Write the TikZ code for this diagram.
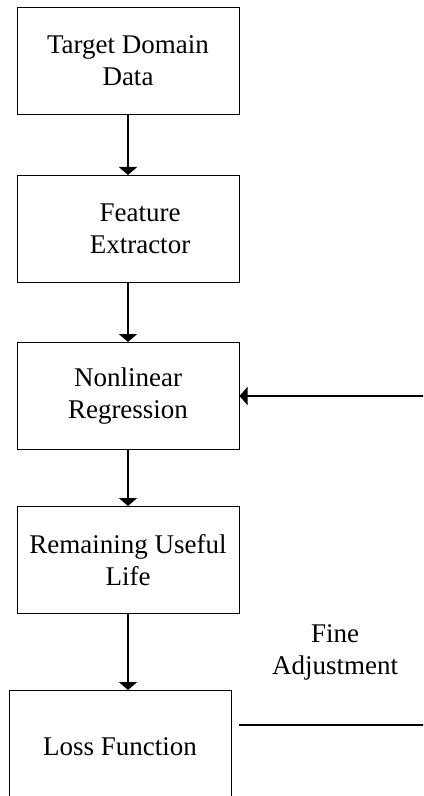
\documentclass[tikz,border=0pt]{standalone}
\usepackage{fontspec}
\setmainfont{Liberation Serif}
\usetikzlibrary{arrows.meta, positioning}

\begin{document}
\begin{tikzpicture}[
    node distance=30pt,
    block/.style={draw, line width=0.5pt, minimum width=111pt, minimum height=53.5pt, inner sep=0pt, align=center, font=\fontsize{13.5}{16}\selectfont},
    arrow/.style={-{Triangle[length=4pt, width=9pt]}, line width=1pt},
    note/.style={align=center, font=\fontsize{13.5}{16}\selectfont},
]
\clip (0,0) rectangle (211.5pt,-398pt);

% Pipeline
\node[block] (data) at (64pt,-30.5pt) {Target Domain\\Data};
\node[block, below=of data] (feature) {\hspace*{12pt}Feature\\\hspace*{12pt}Extractor};
\node[block, below=29.5pt of feature] (regress) {Nonlinear\\Regression};
\node[block, below=28pt of regress] (rul) {Remaining Useful\\Life};
\node[block, below=38pt of rul, xshift=-4pt, minimum height=56pt] (loss) {Loss Function};

\draw[arrow] (data) -- (feature);
\draw[arrow] (feature) -- (regress);
\draw[arrow] (regress) -- (rul);
\draw[arrow] (rul.south) -- (rul.south |- loss.north);

% Fine adjustment feedback
\coordinate[right=95pt of regress.east] (fbin);
\draw[arrow] (fbin) -- (regress.east);

\coordinate[above right=11pt and 3.5pt of loss.east] (fbstart);
\coordinate[right=96pt of fbstart] (fbend);
\draw[line width=1pt] (fbstart) -- (fbend);

\node[note] (fine) at (167.5pt,-326pt) {Fine\\Adjustment};

\end{tikzpicture}
\end{document}
